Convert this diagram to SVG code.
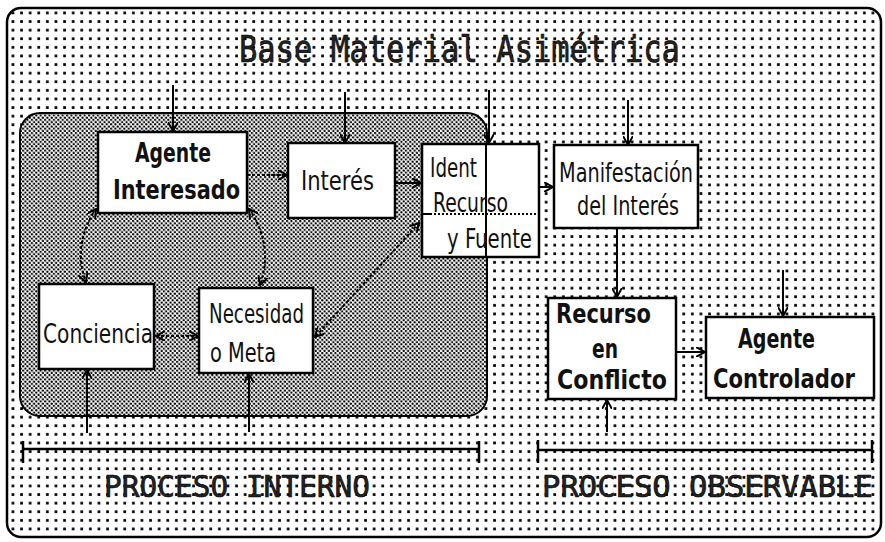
<svg xmlns="http://www.w3.org/2000/svg" width="885" height="542" viewBox="0 0 885 542">
<style>
.box{fill:#fff;stroke:#000;stroke-width:2.5}
.t{font-family:"DejaVu Sans Condensed","DejaVu Sans",sans-serif;font-size:26px;fill:#111}
.b{font-weight:bold}
.big{font-family:"DejaVu Sans Mono","Liberation Mono",monospace;fill:#222;stroke:#000;stroke-width:0.6}
.c{stroke:#000;stroke-width:2;fill:none}
.d{stroke:#000;stroke-width:2;fill:none;stroke-dasharray:3 2}
.brk{stroke:#000;stroke-width:2.5;fill:none}
</style>
<defs>
<pattern id="sparse" width="8.6" height="8.6" patternUnits="userSpaceOnUse">
<rect width="8.6" height="8.6" fill="#fff"/>
<rect x="3" y="3" width="2.7" height="2.7" fill="#000"/>
</pattern>
<pattern id="dense" width="4.4" height="4.4" patternUnits="userSpaceOnUse">
<rect width="4.4" height="4.4" fill="#fff"/>
<circle cx="1.1" cy="1.1" r="1.15" fill="#000"/>
<circle cx="3.3" cy="3.3" r="1.15" fill="#000"/>
</pattern>
<marker id="ah" viewBox="0 0 10 10" refX="9" refY="5" markerWidth="10" markerHeight="10" markerUnits="userSpaceOnUse" orient="auto-start-reverse">
<path d="M0,0 L9,5 L0,10" fill="none" stroke="#000" stroke-width="2"/>
</marker>
</defs>

<g id="background">
<rect x="7" y="8" width="874" height="529" rx="14" fill="url(#sparse)" stroke="#000" stroke-width="2.5"/>
<rect x="20" y="113" width="467" height="303" rx="20" fill="url(#dense)" stroke="#000" stroke-width="2"/>
</g>

<text class="big" x="239" y="62" font-size="38" textLength="441" lengthAdjust="spacingAndGlyphs">Base Material Asimétrica</text>

<g id="connectors">
<line class="c" x1="173" y1="85" x2="173" y2="131" marker-end="url(#ah)"/>
<line class="c" x1="345" y1="92" x2="345" y2="143" marker-end="url(#ah)"/>
<line class="c" x1="489" y1="90" x2="489" y2="143" marker-end="url(#ah)"/>
<line class="c" x1="628" y1="100" x2="628" y2="145" marker-end="url(#ah)"/>
<line class="c" x1="783" y1="270" x2="783" y2="316" marker-end="url(#ah)"/>
<line class="d" x1="247" y1="175" x2="287" y2="175" marker-end="url(#ah)"/>
<line class="c" x1="395" y1="183" x2="421" y2="183" marker-end="url(#ah)"/>
<line class="c" x1="539" y1="187" x2="553" y2="187" marker-end="url(#ah)"/>
<line class="c" x1="617" y1="228" x2="617" y2="297" marker-end="url(#ah)"/>
<line class="c" x1="676" y1="352" x2="705" y2="352" marker-end="url(#ah)"/>
<line class="c" x1="607" y1="432" x2="607" y2="400" marker-end="url(#ah)"/>
<line class="c" x1="87" y1="433" x2="87" y2="370" marker-end="url(#ah)"/>
<line class="c" x1="249" y1="432" x2="249" y2="374" marker-end="url(#ah)"/>
<line class="d" x1="156" y1="336" x2="198" y2="336" marker-start="url(#ah)" marker-end="url(#ah)"/>
<path class="d" d="M96,209 Q72,245 86,282" marker-start="url(#ah)" marker-end="url(#ah)"/>
<path class="d" d="M249,209 Q274,245 260,285" marker-start="url(#ah)" marker-end="url(#ah)"/>
<line class="d" x1="419" y1="223" x2="315" y2="337" marker-start="url(#ah)" marker-end="url(#ah)"/>
</g>

<g id="agente-interesado">
<rect class="box" x="98" y="132" width="149" height="81"/>
<text class="t b" x="135" y="162" textLength="76" lengthAdjust="spacingAndGlyphs">Agente</text>
<text class="t b" x="113" y="199" textLength="127" lengthAdjust="spacingAndGlyphs">Interesado</text>
</g>

<g id="interes">
<rect class="box" x="288" y="143" width="107" height="75"/>
<text class="t" x="301" y="190" textLength="73" lengthAdjust="spacingAndGlyphs">Interés</text>
</g>

<g id="ident-recurso">
<rect class="box" x="422" y="144" width="117" height="113"/>
<line x1="486" y1="144" x2="486" y2="257" stroke="#000" stroke-width="2"/>
<line x1="422" y1="214" x2="430" y2="214" stroke="#000" stroke-width="2"/>
<line x1="430" y1="214" x2="539" y2="214" stroke="#000" stroke-width="2" stroke-dasharray="2 2"/>
<text class="t" x="430" y="177" textLength="47" lengthAdjust="spacingAndGlyphs">Ident</text>
<text class="t" x="433" y="212" textLength="75" lengthAdjust="spacingAndGlyphs">Recurso</text>
<text class="t" x="447" y="248" textLength="85" lengthAdjust="spacingAndGlyphs">y Fuente</text>
</g>

<g id="manifestacion">
<rect class="box" x="554" y="145" width="144" height="83"/>
<text class="t" x="559" y="182" textLength="134" lengthAdjust="spacingAndGlyphs">Manifestación</text>
<text class="t" x="577" y="215" textLength="102" lengthAdjust="spacingAndGlyphs">del Interés</text>
</g>

<g id="conciencia">
<rect class="box" x="39" y="284" width="115" height="85"/>
<text class="t" x="43" y="343" textLength="110" lengthAdjust="spacingAndGlyphs">Conciencia</text>
</g>

<g id="necesidad">
<rect class="box" x="199" y="288" width="114" height="85"/>
<text class="t" x="209" y="323" textLength="95" lengthAdjust="spacingAndGlyphs">Necesidad</text>
<text class="t" x="210" y="362" textLength="66" lengthAdjust="spacingAndGlyphs">o Meta</text>
</g>

<g id="recurso-conflicto">
<rect class="box" x="548" y="298" width="128" height="101"/>
<text class="t b" x="556" y="323" textLength="95" lengthAdjust="spacingAndGlyphs">Recurso</text>
<text class="t b" x="592" y="358" textLength="26" lengthAdjust="spacingAndGlyphs">en</text>
<text class="t b" x="557" y="389" textLength="110" lengthAdjust="spacingAndGlyphs">Conflicto</text>
</g>

<g id="agente-controlador">
<rect class="box" x="706" y="317" width="168" height="81"/>
<text class="t b" x="738" y="348" textLength="77" lengthAdjust="spacingAndGlyphs">Agente</text>
<text class="t b" x="713" y="388" textLength="142" lengthAdjust="spacingAndGlyphs">Controlador</text>
</g>

<g id="proceso-interno">
<line class="brk" x1="23" y1="449" x2="479" y2="449"/>
<line class="brk" x1="23" y1="441" x2="23" y2="463"/>
<line class="brk" x1="479" y1="441" x2="479" y2="463"/>
<text class="big" x="104" y="497" font-size="30" textLength="266" lengthAdjust="spacingAndGlyphs">PROCESO INTERNO</text>
</g>

<g id="proceso-observable">
<line class="brk" x1="538" y1="450" x2="872" y2="450"/>
<line class="brk" x1="538" y1="440" x2="538" y2="463"/>
<line class="brk" x1="872" y1="440" x2="872" y2="463"/>
<text class="big" x="542" y="497" font-size="30" textLength="331" lengthAdjust="spacingAndGlyphs">PROCESO OBSERVABLE</text>
</g>
</svg>
